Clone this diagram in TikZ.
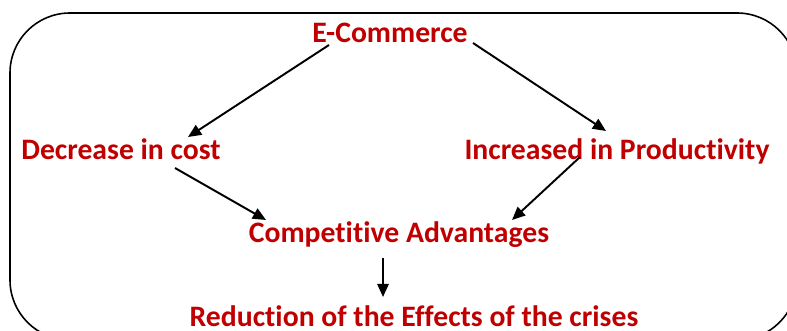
\documentclass[tikz,border=0pt]{standalone}
\usepackage{fontspec}
\setmainfont{Carlito}[Ligatures=NoCommon]
\usetikzlibrary{arrows.meta,calc}
\definecolor{labelred}{HTML}{C00000}

\begin{document}
\begin{tikzpicture}[x=0.02cm, y=0.02cm,
		label/.style={text=labelred, font=\fontsize{16.9}{19}\selectfont\bfseries, inner sep=0pt, anchor=base},
		link/.style={-{Triangle[length=7.5pt, width=6.5pt]}, line width=1.1pt}]
		\useasboundingbox (0, 0) rectangle (787, 331);
		\clip (0, 0) rectangle (787, 331);
		% outer frame, running past the right and bottom edges
		\draw [line width=0.9pt, rounded corners=1.2cm] (10, -9) rectangle (797, 318);
		% labels
		\node [label] (ecom) at (390, 288) {E-Commerce};
		\node [label] (cost) at (121, 171) {Decrease in cost};
		\node [label] (prod) at (617, 171) {Increased in Productivity};
		\node [label] (comp) at (399, 88) {Competitive Advantages};
		\node [label] (crisis) at (414, 5) {Reduction of the Effects of the crises};
		% arrows
		\draw [link] ($(ecom.base)+(-61, -2)$) -- ($(cost.base)+(67, 23)$);
		\draw [link] ($(ecom.base)+(83, 0)$) -- ($(prod.base)+(-11, 29)$);
		\draw [link] ($(cost.base)+(54, -8)$) -- ($(comp.base)+(-133, 23)$);
		\draw [link] ($(prod.base)+(-37, 3)$) -- ($(comp.base)+(113, 23)$);
		\draw [link] ($(comp.base)+(-16, -15)$) -- ($(crisis.base)+(-31, 29)$);
	\end{tikzpicture}
\end{document}
